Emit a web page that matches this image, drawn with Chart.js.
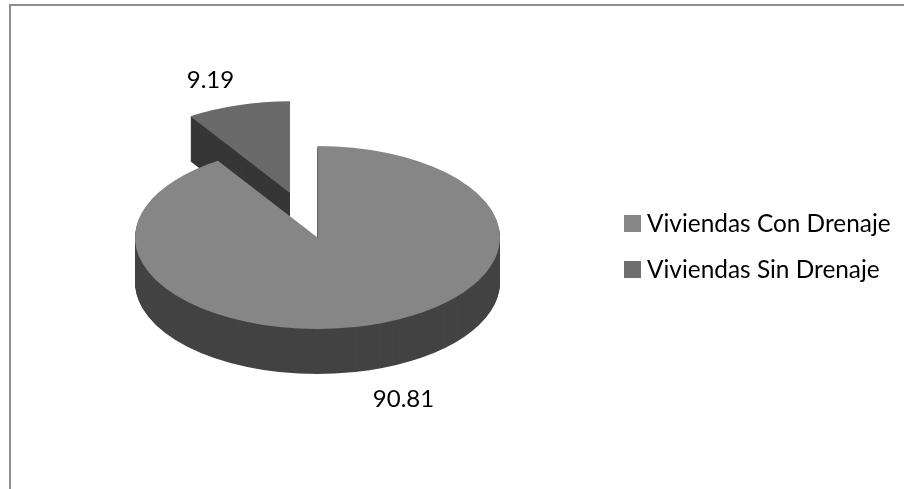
<!DOCTYPE html>
<html>
<head>
<meta charset="utf-8">
<style>
  html, body { margin: 0; padding: 0; background: #fff; overflow: hidden; }
  #frame { position: absolute; left: 9px; top: 4px; width: 895px; height: 485px; border-top: 2px solid #8e8e8e; border-left: 2px solid #8e8e8e; box-sizing: border-box; }
  #wrap { position: absolute; left: 0; top: 0; width: 904px; height: 489px; }
</style>
</head>
<body>
<div id="frame"></div>
<div id="wrap"><canvas id="my-chart" width="904" height="489"></canvas></div>
<script src="https://cdn.jsdelivr.net/npm/chart.js@4"></script>
<script>
const categories = ["Viviendas Con Drenaje", "Viviendas Sin Drenaje"];
const porcentajes = [90.81, 9.19];
const topColors = ["#868686", "#6a6a6a"];
const sideColors = ["#434343", "#363636"];
const legendColors = ["#868686", "#6e6e6e"];

const squash = 0.5014;   // flatten the pie to look tilted
const depth = 45;        // thickness in screen px
const explode = [[0, 0], [-27.5, -89]]; // pull the small slice out
const labelPos = [[403.5, 407], [210.5, 88]];

const pie3d = {
  id: "pie3d",
  beforeDatasetDraw(chart) {
    const ctx = chart.ctx;
    const arcs = chart.getDatasetMeta(0).data;
    const cx = arcs[0].x;
    const cy = arcs[0].y;
    // small slice goes first, the big one covers its side
    for (let i = arcs.length - 1; i >= 0; i--) {
      const arc = arcs[i];
      const base = arc.options;
      const side = Object.assign({}, base, { backgroundColor: sideColors[i] });
      ctx.save();
      ctx.translate(cx, cy);
      ctx.scale(1, squash);
      ctx.translate(-cx, -cy);
      ctx.translate(explode[i][0], explode[i][1]);
      arc.options = side;
      for (let d = depth; d > 0; d--) {
        ctx.save();
        ctx.translate(0, d / squash);
        arc.draw(ctx);
        ctx.restore();
      }
      arc.options = base;
      arc.draw(ctx);
      ctx.restore();
    }
    return false;
  },
  afterDraw(chart) {
    const ctx = chart.ctx;
    ctx.save();
    ctx.font = "24px Lato, sans-serif";
    ctx.fillStyle = "#000";
    ctx.textBaseline = "alphabetic";
    ctx.textAlign = "center";
    porcentajes.forEach((v, i) => {
      ctx.fillText(v.toFixed(2), labelPos[i][0], labelPos[i][1]);
    });
    // legend
    ctx.font = "24.4px Lato, sans-serif";
    ctx.textAlign = "left";
    categories.forEach((name, i) => {
      const y = 232 + i * 46;
      ctx.fillStyle = legendColors[i];
      ctx.fillRect(624, y - 17, 17, 17);
      ctx.fillStyle = "#000";
      ctx.fillText(name, 647, y);
    });
    ctx.restore();
  },
};

const chartConfig = {
  type: "pie",
  data: {
    labels: categories,
    datasets: [
      {
        data: porcentajes,
        backgroundColor: topColors,
        borderWidth: 0,
      },
    ],
  },
  options: {
    responsive: false,
    animation: false,
    radius: 182.5,
    clip: false,
    layout: { padding: { left: 0, right: 269, top: 0, bottom: 14 } },
    plugins: { legend: { display: false }, tooltip: { enabled: false } },
  },
  plugins: [pie3d],
};

const myChart = new Chart(document.getElementById("my-chart"), chartConfig);
</script>
</body>
</html>
